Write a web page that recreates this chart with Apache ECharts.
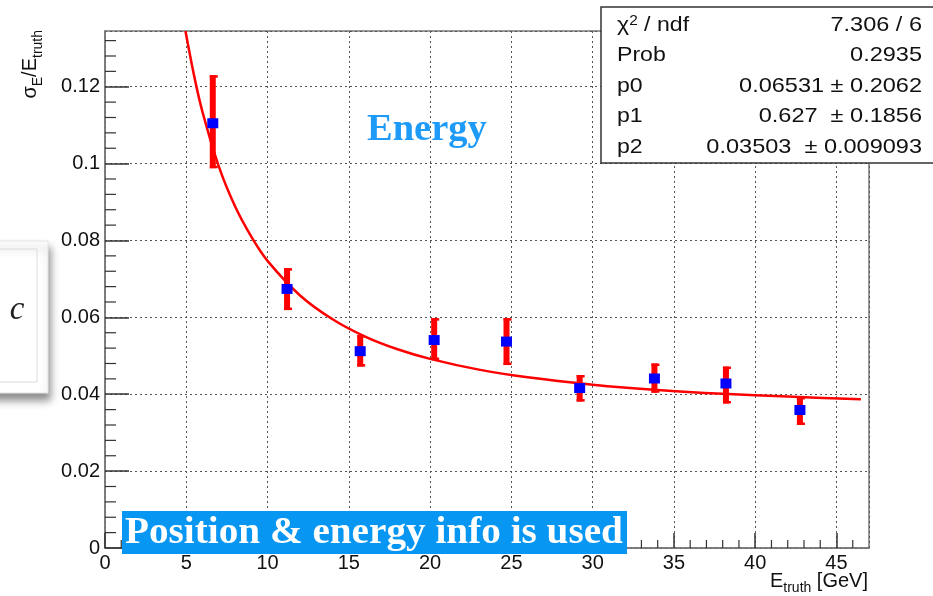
<!DOCTYPE html>
<html>
<head>
<meta charset="utf-8">
<script src="https://cdn.jsdelivr.net/npm/echarts@6/dist/echarts.min.js"></script>
<style>
  html, body { margin: 0; padding: 0; background: #ffffff; }
  #chart { width: 933px; height: 596px; }
</style>
</head>
<body>
<div id="chart"></div>
<script>
// Measured energy resolution vs. true energy
const energies   = [6.63, 11.2, 15.7, 20.25, 24.7, 29.2, 33.8, 38.2, 42.75];
const resolution = [0.1105, 0.0674, 0.0512, 0.0541, 0.0537, 0.0416, 0.0441, 0.0428, 0.0359];
const errLow     = [0.0988, 0.0619, 0.0472, 0.0489, 0.0476, 0.0381, 0.0404, 0.0376, 0.0320];
const errHigh    = [0.1230, 0.0728, 0.0554, 0.0598, 0.0598, 0.0450, 0.0480, 0.0472, 0.0393];

// Fitted resolution curve, sampled along E
const fitE   = [4.95, 5.5, 6, 7, 8, 9, 10, 12, 14, 16, 18, 20, 23, 26, 30, 34, 38, 42, 46.5];
const fitVal = [0.1345, 0.1225, 0.1134, 0.0993, 0.0889, 0.0810, 0.0747, 0.0657, 0.0595, 0.0550,
                0.0517, 0.0492, 0.0464, 0.0444, 0.0425, 0.0411, 0.0401, 0.0394, 0.0387];

// Axis tick labels
const xTicks = [0, 5, 10, 15, 20, 25, 30, 35, 40, 45];
const xTickLabels = ['0', '5', '10', '15', '20', '25', '30', '35', '40', '45'];
const yTicks = [0, 0.02, 0.04, 0.06, 0.08, 0.1, 0.12];
const yTickLabels = ['0', '0.02', '0.04', '0.06', '0.08', '0.1', '0.12'];

// Fit statistics box
const statsLabels = ['{a|χ}{sup|2}{a| / ndf}', 'Prob', 'p0', 'p1', 'p2'];
const statsValues = ['7.306 / 6', '0.2935', '0.06531 ± 0.2062', '0.627  ± 0.1856', '0.03503  ± 0.009093'];

const X_MAX = 47;
const Y_MAX = 0.1345;

// Minor tick positions (one per GeV, 0.004 on the resolution axis)
const xMinor = [];
for (let v = 1; v < X_MAX; v++) if (v % 5 !== 0) xMinor.push([v, 0]);
const yMinor = [];
for (let k = 1; k * 0.004 < Y_MAX; k++) if (k % 5 !== 0) yMinor.push([0, +(k * 0.004).toFixed(3)]);

const chart = echarts.init(document.getElementById('chart'), null, { renderer: 'canvas' });

const SANS = '"Liberation Sans", Arial, Helvetica, sans-serif';
const SERIF = '"Liberation Serif", "Times New Roman", serif';

function matchLabel(v, ticks, labels) {
  for (let i = 0; i < ticks.length; i++) {
    if (Math.abs(ticks[i] - v) < 1e-9) return labels[i];
  }
  return '';
}

const gridLine = { show: true, lineStyle: { color: '#555', width: 1, type: [2, 3] } };

const option = {
  animation: false,
  backgroundColor: '#ffffff',
  grid: {
    left: 105, right: 64, top: 31, bottom: 48,
    show: true, borderColor: '#777', borderWidth: 1.5, backgroundColor: 'transparent'
  },
  xAxis: {
    type: 'value', min: 0, max: X_MAX, interval: 5,
    axisLine: { show: true, onZero: false, lineStyle: { color: '#777', width: 1.5 } },
    axisTick: { show: true, inside: true, length: 15, lineStyle: { color: '#333', width: 1.5 } },
    axisLabel: {
      show: true, margin: 5, color: '#111', fontSize: 20, fontFamily: SANS,
      showMaxLabel: false,
      formatter: v => matchLabel(v, xTicks, xTickLabels)
    },
    splitLine: gridLine
  },
  yAxis: {
    type: 'value', min: 0, max: Y_MAX, interval: 0.02,
    axisLine: { show: true, onZero: false, lineStyle: { color: '#777', width: 1.5 } },
    axisTick: { show: true, inside: true, length: 24, lineStyle: { color: '#333', width: 1.5 } },
    axisLabel: {
      show: true, margin: 5, color: '#111', fontSize: 20, fontFamily: SANS,
      showMaxLabel: false,
      formatter: v => matchLabel(v, yTicks, yTickLabels)
    },
    splitLine: gridLine
  },
  series: [
    {
      // minor ticks on the energy axis
      type: 'custom', silent: true, clip: false, z: 3,
      data: xMinor,
      renderItem: (params, api) => {
        const p = api.coord([api.value(0), 0]);
        return { type: 'line', shape: { x1: p[0], y1: p[1], x2: p[0], y2: p[1] - 8 },
                 style: { stroke: '#333', lineWidth: 1.2 } };
      }
    },
    {
      // minor ticks on the resolution axis
      type: 'custom', silent: true, clip: false, z: 3,
      data: yMinor,
      renderItem: (params, api) => {
        const p = api.coord([0, api.value(1)]);
        return { type: 'line', shape: { x1: p[0], y1: p[1], x2: p[0] + 11, y2: p[1] },
                 style: { stroke: '#333', lineWidth: 1.2 } };
      }
    },
    {
      // fit curve
      type: 'line', silent: true, clip: true, z: 4,
      data: fitE.map((e, i) => [e, fitVal[i]]),
      smooth: 0.35, showSymbol: false, symbol: 'none',
      lineStyle: { color: '#ff0000', width: 2.5 }
    },
    {
      // vertical error bars
      type: 'custom', silent: true, z: 5,
      data: energies.map((e, i) => [e, errLow[i], errHigh[i]]),
      renderItem: (params, api) => {
        const x = api.value(0);
        const top = api.coord([x, api.value(2)]);
        const bot = api.coord([x, api.value(1)]);
        return {
          type: 'group',
          children: [
            { type: 'rect', shape: { x: top[0] - 3, y: top[1], width: 6, height: bot[1] - top[1] },
              style: { fill: '#ff0000' } },
            { type: 'rect', shape: { x: top[0] - 3, y: top[1], width: 8, height: 2.5 },
              style: { fill: '#ff0000' } },
            { type: 'rect', shape: { x: bot[0] - 3, y: bot[1] - 2.5, width: 8, height: 2.5 },
              style: { fill: '#ff0000' } }
          ]
        };
      }
    },
    {
      // measured points
      type: 'scatter', silent: true, z: 6,
      data: energies.map((e, i) => [e, resolution[i]]),
      symbol: 'rect', symbolSize: [11, 10],
      itemStyle: { color: '#0000ff', opacity: 1 }
    }
  ],
  graphic: [
    // fragment of a neighbouring box on the left edge
    {
      type: 'rect', z: 1,
      shape: { x: -12, y: 241, width: 60, height: 152 },
      style: { fill: '#ffffff', stroke: '#e4e4e4', lineWidth: 1,
               shadowBlur: 8, shadowOffsetX: 2, shadowOffsetY: 7, shadowColor: 'rgba(0,0,0,0.45)' }
    },
    {
      type: 'rect', z: 2,
      shape: { x: -12, y: 249, width: 49, height: 133 },
      style: { fill: 'none', stroke: '#dcdcdc', lineWidth: 1 }
    },
    {
      type: 'text', z: 3,
      style: { text: 'c', x: 17, y: 310, align: 'center', verticalAlign: 'middle',
               font: 'italic 33px ' + SERIF, fill: '#222' }
    },
    // y axis title
    {
      type: 'text', z: 10, x: 45, y: 30, rotation: Math.PI / 2,
      style: {
        text: '{m|σ}{s|E}{m|/E}{s|truth}', align: 'right', verticalAlign: 'bottom',
        rich: {
          m: { fontSize: 20, fontFamily: SANS, fill: '#111', verticalAlign: 'bottom', padding: [0, 0, 5, 0] },
          s: { fontSize: 14, fontFamily: SANS, fill: '#111', verticalAlign: 'bottom' }
        }
      }
    },
    // x axis title
    {
      type: 'text', z: 10, x: 868, y: 595,
      style: {
        text: '{m|E}{s|truth}{m| [GeV]}', align: 'right', verticalAlign: 'bottom',
        rich: {
          m: { fontSize: 20, fontFamily: SANS, fill: '#111', verticalAlign: 'bottom', padding: [0, 0, 4, 0] },
          s: { fontSize: 14, fontFamily: SANS, fill: '#111', verticalAlign: 'bottom' }
        }
      }
    },
    // fit statistics box
    {
      type: 'rect', z: 20,
      shape: { x: 601, y: 7, width: 345, height: 156 },
      style: { fill: '#ffffff', stroke: '#333', lineWidth: 1.5 }
    },
    ...statsLabels.map((t, i) => ({
      type: 'text', z: 21, x: 617, y: 25 + i * 30.5, scaleX: 1.1,
      style: {
        text: t, x: 0, y: 0, align: 'left', verticalAlign: 'middle',
        fontSize: 21, fontFamily: SANS, fill: '#111',
        rich: {
          a: { fontSize: 21, fontFamily: SANS, fill: '#111', verticalAlign: 'bottom' },
          sup: { fontSize: 14, fontFamily: SANS, fill: '#111', verticalAlign: 'top' }
        }
      }
    })),
    ...statsValues.map((t, i) => ({
      type: 'text', z: 21, x: 922, y: 25 + i * 30.5, scaleX: 1.12,
      style: {
        text: t, x: 0, y: 0, align: 'right', verticalAlign: 'middle',
        fontSize: 21, fontFamily: SANS, fill: '#111'
      }
    })),
    // annotation inside the plot
    {
      type: 'text', z: 15, x: 367, y: 130, scaleX: 1.04,
      style: { text: 'Energy', x: 0, y: 0, align: 'left', verticalAlign: 'middle',
               font: 'bold 37px ' + SERIF, fill: '#1e9bf8' }
    },
    // banner over the lower plot area
    {
      type: 'rect', z: 15,
      shape: { x: 122, y: 511, width: 505, height: 43 },
      style: { fill: '#0796f2' }
    },
    {
      type: 'text', z: 16, x: 125, y: 533, scaleX: 1.06,
      style: { text: 'Position & energy info is used', x: 0, y: 0, align: 'left', verticalAlign: 'middle',
               font: 'bold 37px ' + SERIF, fill: '#ffffff' }
    }
  ]
};

chart.setOption(option);
</script>
</body>
</html>
